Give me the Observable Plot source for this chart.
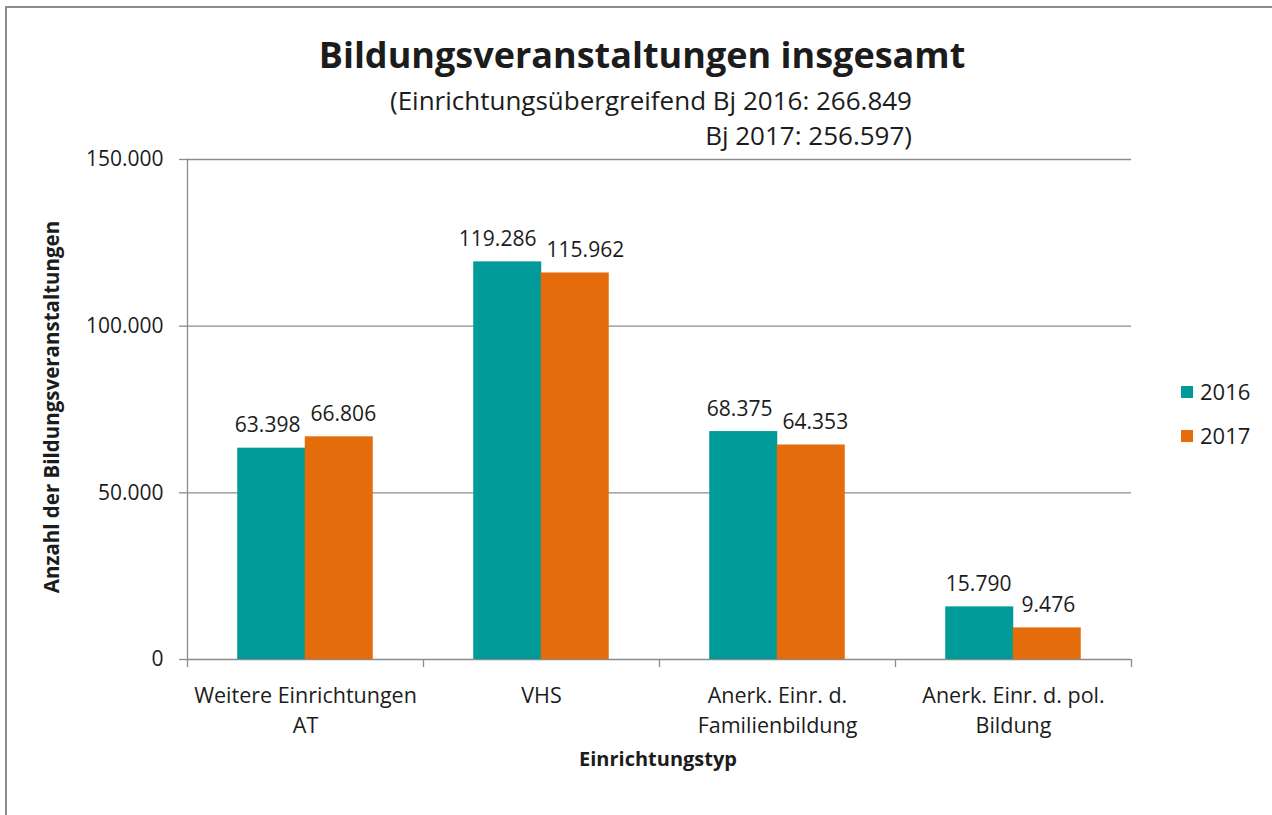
<!DOCTYPE html>
<html><head><meta charset="utf-8">
<script src="https://cdn.jsdelivr.net/npm/d3@7"></script>
<script src="https://cdn.jsdelivr.net/npm/@observablehq/plot@0.6"></script>
<style>
body{margin:0;background:#fff;}
#wrap{position:relative;width:1272px;height:815px;overflow:hidden;font-family:"Open Sans",sans-serif;}
#border{position:absolute;left:5px;top:6px;right:-10px;bottom:-10px;border-left:2px solid #8c8c8c;border-top:2px solid #8c8c8c;}
#wrap svg{position:absolute;left:0;top:0;}
</style></head><body><div id="wrap"><div id="border"></div></div>
<script>
const categories = ["Weitere Einrichtungen\nAT", "VHS", "Anerk. Einr. d.\nFamilienbildung", "Anerk. Einr. d. pol.\nBildung"];
const years = ["2016", "2017"];
const values2016 = [63398, 119286, 68375, 15790];
const values2017 = [66806, 115962, 64353, 9476];
const yTicks = [0, 50000, 100000, 150000];
const colors = ["#009a99", "#e46c0a"];
const titleText = "Bildungsveranstaltungen insgesamt";
const subtitleLines = ["(Einrichtungsübergreifend Bj 2016: 266.849", "Bj 2017: 256.597)"];
const yLabel = "Anzahl der Bildungsveranstaltungen";
const xLabel = "Einrichtungstyp";

const fmt = d3.formatLocale({decimal: ",", thousands: ".", grouping: [3], currency: ["", " €"]}).format(",d");
const W = 1272, H = 815, mL = 187, mR = 141, mT = 159, mB = 156;
const step = (W - mL - mR) / categories.length;
const bw = 67.5;
const padInner = 1 - bw / step;
const grid = "#8c8c8c";
const ink = "#1c1c1c";
const labelSize = 21;

const d16 = categories.map((c, i) => ({cat: c, v: values2016[i]}));
const d17 = categories.map((c, i) => ({cat: c, v: values2017[i]}));

// approximate label width to keep neighbouring value labels from overlapping
const estW = s => labelSize * (s.replace(/\./g, "").length * 0.572 + (s.split(".").length - 1) * 0.27);
const nudges = categories.map((c, i) => {
  const need = (estW(fmt(values2016[i])) + estW(fmt(values2017[i]))) / 2 + 10;
  return Math.max(0, (need - bw) / 2);
});

const labelMarks = [];
categories.forEach((c, i) => {
  labelMarks.push(Plot.text([d16[i]], {x: "cat", y: "v", text: d => fmt(d.v), dx: -bw / 2 - nudges[i], dy: -16, lineAnchor: "bottom", fontSize: labelSize, fill: ink}));
  labelMarks.push(Plot.text([d17[i]], {x: "cat", y: "v", text: d => fmt(d.v), dx: bw / 2 + nudges[i], dy: -16, lineAnchor: "bottom", fontSize: labelSize, fill: ink}));
});

const chart = Plot.plot({
  width: W, height: H,
  marginLeft: mL, marginRight: mR, marginTop: mT, marginBottom: mB,
  style: {fontFamily: "Open Sans, sans-serif", fontSize: "21px", color: ink, background: "transparent"},
  x: {type: "band", domain: categories, paddingInner: padInner, paddingOuter: padInner / 2, axis: null},
  y: {domain: [0, 150000], axis: null},
  marks: [
    Plot.gridY(yTicks, {stroke: grid, strokeOpacity: 1, strokeWidth: 1.3}),
    Plot.axisY(yTicks, {tickFormat: fmt, tickSize: 8, tickPadding: 16, stroke: grid, strokeWidth: 1.3, label: null, fontSize: 21}),
    Plot.frame({anchor: "left", stroke: grid, strokeWidth: 1.3}),
    Plot.ruleX(categories, {x: d => d, y1: 0, y2: 0, dx: -step / 2, insetBottom: -8, stroke: grid, strokeWidth: 1.3}),
    Plot.ruleX(categories.slice(-1), {x: d => d, y1: 0, y2: 0, dx: step / 2, insetBottom: -8, stroke: grid, strokeWidth: 1.3}),
    Plot.barY(d16, {x: "cat", y: "v", fill: colors[0], dx: -bw / 2}),
    Plot.barY(d17, {x: "cat", y: "v", fill: colors[1], dx: bw / 2}),
    ...labelMarks,
    Plot.axisX({tickSize: 0, tickPadding: 22, lineHeight: 1.4, label: null, fontSize: 21.5, fill: ink})
  ]
});
document.getElementById("wrap").appendChild(chart);

// Overlay: titles, axis labels, legend
const ov = d3.select("#wrap").append("svg").attr("width", W).attr("height", H)
  .style("font-family", "Open Sans, sans-serif").attr("fill", ink);
ov.append("text").attr("x", 642).attr("y", 68).attr("text-anchor", "middle")
  .attr("font-size", 36).attr("font-weight", "bold").text(titleText);
ov.append("text").attr("x", 912).attr("y", 110).attr("text-anchor", "end")
  .attr("font-size", 26).text(subtitleLines[0]);
ov.append("text").attr("x", 912).attr("y", 145).attr("text-anchor", "end")
  .attr("font-size", 26).text(subtitleLines[1]);
ov.append("text").attr("transform", "translate(59,407) rotate(-90)").attr("text-anchor", "middle")
  .attr("font-size", 20.5).attr("font-weight", "bold").text(yLabel);
ov.append("text").attr("x", 658).attr("y", 766).attr("text-anchor", "middle")
  .attr("font-size", 20).attr("font-weight", "bold").text(xLabel);
const lg = ov.append("g").selectAll("g").data(years).join("g")
  .attr("transform", (d, i) => `translate(1181,${386 + i * 44})`);
lg.append("rect").attr("width", 12).attr("height", 12).attr("fill", (d, i) => colors[i]);
lg.append("text").attr("x", 19).attr("y", 14).attr("font-size", 22).text(d => d);
</script></body></html>
